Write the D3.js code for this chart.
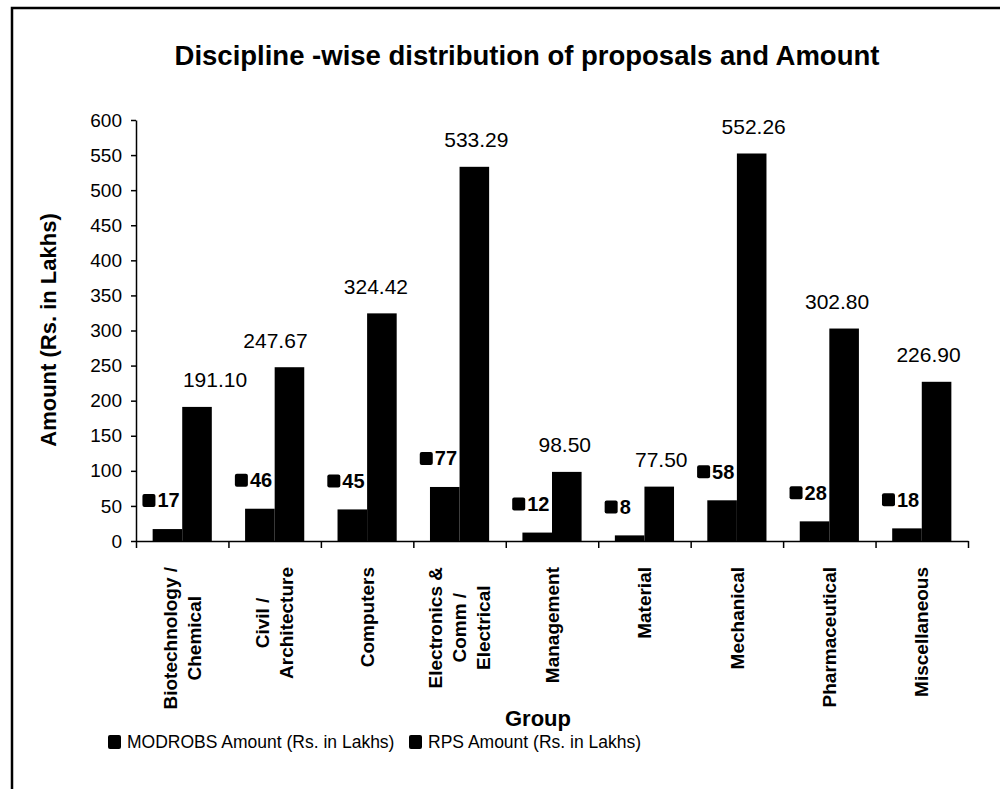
<!DOCTYPE html>
<html><head><meta charset="utf-8">
<script src="https://cdn.jsdelivr.net/npm/d3@7"></script>
<style>
body{margin:0;background:#fff}
text{font-family:"Liberation Sans",Arial,sans-serif;fill:#000}
</style>
</head><body>
<svg id="c" width="1000" height="789"></svg>
<script>
const categories = ["Biotechnology /\nChemical","Civil /\nArchitecture","Computers","Electronics &\nComm /\nElectrical","Management","Material","Mechanical","Pharmaceutical","Miscellaneous"];
const modrobsAmount = [17, 46, 45, 77, 12, 8, 58, 28, 18];
const rpsAmount = [191.10, 247.67, 324.42, 533.29, 98.50, 77.50, 552.26, 302.80, 226.90];
const yTicks = [0,50,100,150,200,250,300,350,400,450,500,550,600];
const seriesNames = ["MODROBS Amount (Rs. in Lakhs)", "RPS Amount (Rs. in Lakhs)"];
const chartTitle = "Discipline -wise distribution of proposals and Amount";
const yTitle = "Amount (Rs. in Lakhs)";
const xTitle = "Group";
// manual horizontal nudges of the RPS data labels (layout only), px
const rpsLabelDx = [18,-14,-6,2,-2,2,2,-7,-8];

const svg = d3.select("#c");
svg.append("rect").attr("width",1000).attr("height",789).attr("fill","#fff");
svg.append("rect").attr("x",12).attr("y",8).attr("width",1000).attr("height",800)
  .attr("fill","none").attr("stroke","#000").attr("stroke-width",2.5);

const L=136, R=968, T=120, B=541;
const x0 = d3.scaleBand().domain(categories).range([L,R]).paddingInner(0.36).paddingOuter(0.18);
const x1 = d3.scaleBand().domain([0,1]).range([0,x0.bandwidth()]);
const y = d3.scaleLinear().domain([0,600]).range([B,T]);
const xb = d3.scaleLinear().domain([0,categories.length]).range([L,R]);

// title
svg.append("text").attr("x",527).attr("y",65).attr("text-anchor","middle")
  .style("font-size","27.5px").style("font-weight","bold").text(chartTitle);

// y axis
const ya = svg.append("g").attr("transform",`translate(${L},0)`)
  .call(d3.axisLeft(y).tickValues(yTicks).tickSize(5).tickSizeOuter(0).tickPadding(9));
ya.selectAll("path,line").attr("stroke","#000").attr("stroke-width",1.5);
ya.selectAll("text").style("font-size","19px").style("font-family","'Liberation Sans',Arial,sans-serif").attr("fill","#000");

// x axis (category boundaries)
const xa = svg.append("g").attr("transform",`translate(0,${B})`)
  .call(d3.axisBottom(xb).tickValues(d3.range(categories.length+1)).tickSize(7).tickSizeOuter(0).tickFormat(""));
xa.selectAll("path,line").attr("stroke","#000").attr("stroke-width",1.5);

const bw = x1.bandwidth();
const grp = svg.append("g");
// MODROBS bars
grp.selectAll("rect.m").data(modrobsAmount).join("rect").attr("class","m")
  .attr("x",(d,i)=>x0(categories[i])+x1(0)).attr("width",bw)
  .attr("y",d=>y(d)).attr("height",d=>B-y(d)).attr("fill","#000");
// MODROBS labels (with legend key), partly hidden behind RPS bars
const ml = grp.selectAll("g.ml").data(modrobsAmount).join("g").attr("class","ml")
  .attr("transform",(d,i)=>`translate(${x0(categories[i])+x1(0)+bw/2-25},${y(d)-29})`);
ml.append("rect").attr("x",0).attr("y",-6).attr("width",13).attr("height",13).attr("rx",2).attr("fill","#000");
ml.append("text").attr("x",15).attr("dy","0.36em").style("font-size","20px").style("font-weight","bold").text(d=>d);
// RPS bars
grp.selectAll("rect.r").data(rpsAmount).join("rect").attr("class","r")
  .attr("x",(d,i)=>x0(categories[i])+x1(1)).attr("width",bw)
  .attr("y",d=>y(d)).attr("height",d=>B-y(d)).attr("fill","#000");
// RPS labels
grp.selectAll("text.rl").data(rpsAmount).join("text").attr("class","rl")
  .attr("x",(d,i)=>x0(categories[i])+x1(1)+bw/2+rpsLabelDx[i])
  .attr("y",d=>y(d)-27).attr("dy","0.36em")
  .attr("text-anchor","middle").style("font-size","21px").text(d=>d3.format(".2f")(d));

// category labels
categories.forEach((c,i)=>{
  const lines = c.split("\n");
  const g = svg.append("g").attr("transform",`translate(${x0(c)+x0.bandwidth()/2},567) rotate(-90)`);
  const ts = lines.map((ln,j)=>g.append("text").attr("text-anchor","middle")
      .attr("y",(j-(lines.length-1)/2)*24).attr("dy","0.35em")
      .style("font-size","19px").style("font-weight","bold").text(ln));
  const maxLen = d3.max(ts,t=>t.node().getComputedTextLength());
  ts.forEach(t=>t.attr("x",-maxLen/2));
});

// axis titles
svg.append("text").attr("transform","translate(48,330) rotate(-90)").attr("text-anchor","middle")
  .attr("dy","0.35em").style("font-size","22px").style("font-weight","bold").text(yTitle);
svg.append("text").attr("x",538).attr("y",726).attr("text-anchor","middle")
  .style("font-size","22px").style("font-weight","bold").text(xTitle);

// legend
const legX = [108, 409];
const lg = svg.selectAll("g.lg").data(seriesNames).join("g").attr("class","lg")
  .attr("transform",(d,i)=>`translate(${legX[i]},742)`);
lg.append("rect").attr("x",0).attr("y",-7).attr("width",13).attr("height",14).attr("rx",2).attr("fill","#000");
lg.append("text").attr("x",19).attr("dy","0.36em").style("font-size","17.5px").text(d=>d);
</script>
</body></html>
